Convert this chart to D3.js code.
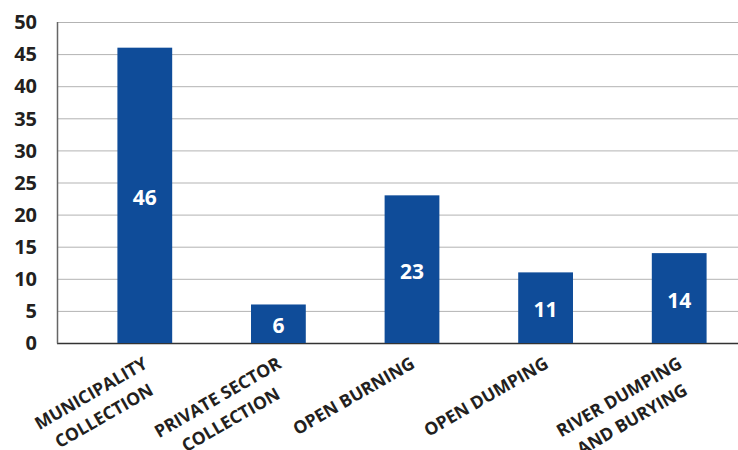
<!DOCTYPE html>
<html>
<head>
<meta charset="utf-8">
<script src="https://cdn.jsdelivr.net/npm/d3@7"></script>
<style>
  body { margin: 0; background: #fff; }
  svg text { font-family: "Open Sans", "Noto Sans", sans-serif; font-weight: bold; }
</style>
</head>
<body>
<svg id="chart" width="738" height="450"></svg>
<script>
// categories and values
const categories = [
  ['MUNICIPALITY', 'COLLECTION'],
  ['PRIVATE SECTOR', 'COLLECTION'],
  ['OPEN BURNING'],
  ['OPEN DUMPING'],
  ['RIVER DUMPING', 'AND BURYING']
];
const values = [46, 6, 23, 11, 14];
const yTicks = [0, 5, 10, 15, 20, 25, 30, 35, 40, 45, 50];

const margin = {top: 22, right: 0, bottom: 107, left: 57};
const width = 738 - margin.left - margin.right;
const height = 450 - margin.top - margin.bottom;

const svg = d3.select('#chart')
  .append('g')
    .attr('transform', 'translate(' + margin.left + ',' + margin.top + ')');

const y = d3.scaleLinear().domain([0, 50]).range([height, 0]);
// bars are not evenly spread over the plot width in the original, so the band range runs past it
const x = d3.scaleBand()
  .domain(d3.range(categories.length))
  .range([21, 689])
  .paddingInner(0.59)
  .paddingOuter(0.295);

// gridlines
svg.append('g')
  .selectAll('line')
  .data(yTicks)
  .join('line')
    .attr('x1', 0)
    .attr('x2', width)
    .attr('y1', (d) => y(d) + 0.5)
    .attr('y2', (d) => y(d) + 0.5)
    .attr('stroke', (d) => d === 0 ? '#333' : '#b3b3b3')
    .attr('stroke-width', (d) => d === 0 ? 1.5 : 1);

// left axis line
svg.append('line')
  .attr('x1', 0.5).attr('x2', 0.5)
  .attr('y1', 0).attr('y2', height + 0.5)
  .attr('stroke', '#666')
  .attr('stroke-width', 1.5);

// y tick labels
svg.append('g')
  .selectAll('text')
  .data(yTicks)
  .join('text')
    .attr('x', -20)
    .attr('y', (d) => y(d))
    .attr('dy', '0.36em')
    .attr('text-anchor', 'end')
    .attr('fill', '#231f20')
    .style('font-size', '20px')
    .text((d) => d);

// bars
svg.append('g')
  .selectAll('rect')
  .data(values)
  .join('rect')
    .attr('x', (d, i) => x(i))
    .attr('y', (d) => y(d))
    .attr('width', x.bandwidth())
    .attr('height', (d) => y(0) - y(d))
    .attr('fill', '#0f4c99');

// value labels
svg.append('g')
  .selectAll('text')
  .data(values)
  .join('text')
    .attr('x', (d, i) => x(i) + x.bandwidth() / 2)
    .attr('y', (d) => (y(d) + y(0)) / 2)
    .attr('dy', '0.45em')
    .attr('text-anchor', 'middle')
    .attr('fill', '#fff')
    .style('font-size', '21px')
    .text((d) => d);

// rotated category labels, lines centred on each other, block right-aligned at the anchor
const lineHeight = 26;
categories.forEach((lines, i) => {
  const cx = x(i) + x.bandwidth() / 2 + 4;
  const g = svg.append('g')
    .attr('transform', 'translate(' + cx + ',' + (height + 24) + ') rotate(-30)');
  const t = g.append('text')
    .attr('text-anchor', 'middle')
    .attr('fill', '#231f20')
    .style('font-size', '17.5px');
  lines.forEach((line, j) => {
    t.append('tspan')
      .attr('x', 0)
      .attr('y', j * lineHeight)
      .text(line);
  });
  let w = 0;
  t.selectAll('tspan').each(function() { w = Math.max(w, this.getComputedTextLength()); });
  t.attr('transform', 'translate(' + (-w / 2) + ',0)');
});
</script>
</body>
</html>
